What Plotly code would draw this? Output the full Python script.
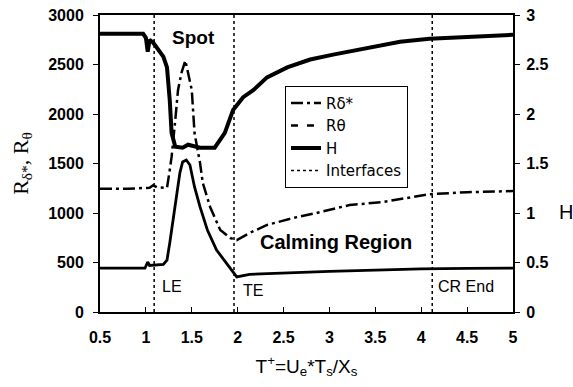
import plotly.graph_objects as go

# ---- data ----
x_h = [0.5, 0.97, 1.00, 1.02, 1.04, 1.08, 1.19, 1.23, 1.26, 1.28, 1.32, 1.40, 1.46, 1.59, 1.75,
       1.86, 1.95, 2.06, 2.17, 2.32, 2.54, 2.79, 3.04, 3.41, 3.77, 4.09, 4.5, 5.0]
h_vals = [2.81, 2.81, 2.77, 2.63, 2.75, 2.72, 2.58, 2.47, 2.14, 1.81, 1.67, 1.66, 1.69, 1.66, 1.66,
          1.81, 2.04, 2.17, 2.24, 2.37, 2.47, 2.55, 2.60, 2.67, 2.73, 2.76, 2.78, 2.80]

x_rd = [0.5, 0.8, 1.04, 1.08, 1.12, 1.23, 1.26, 1.28, 1.32, 1.35, 1.39, 1.43, 1.46, 1.50, 1.53,
        1.59, 1.62, 1.70, 1.81, 1.92, 1.99, 2.13, 2.32, 2.60, 2.86, 3.22, 3.58, 4.09, 4.5, 5.0]
rd_vals = [1245, 1245, 1255, 1280, 1260, 1253, 1434, 1566, 1939, 2242, 2424, 2540, 2414, 2242, 1808,
           1505, 1303, 1061, 828, 747, 727, 798, 879, 949, 1000, 1081, 1111, 1190, 1210, 1222]

x_rt = [0.5, 0.99, 1.02, 1.04, 1.19, 1.23, 1.26, 1.30, 1.34, 1.37, 1.40, 1.44, 1.48, 1.53, 1.59,
        1.67, 1.77, 1.88, 1.99, 2.13, 2.5, 3.0, 3.5, 4.0, 4.5, 5.0]
rt_vals = [444, 444, 505, 470, 480, 525, 697, 960, 1202, 1404, 1515, 1535, 1485, 1263, 1061,
           828, 626, 495, 354, 380, 395, 410, 422, 435, 440, 444]

interfaces = [1.09, 1.96, 4.12]
interface_labels = ["LE", "TE", "CR End"]

x_ticks = [0.5, 1, 1.5, 2, 2.5, 3, 3.5, 4, 4.5, 5]
left_ticks = [0, 500, 1000, 1500, 2000, 2500, 3000]
right_ticks = [0, 0.5, 1, 1.5, 2, 2.5, 3]

FONT = "Liberation Sans, Arial, sans-serif"
TICKFONT = dict(size=16, family=FONT, weight="bold")

fig = go.Figure()

fig.add_trace(go.Scatter(x=x_rd, y=rd_vals, name="Rδ*", mode="lines", legendrank=1,
                         line=dict(color="black", width=2.5, dash="12px,4px,3px,4px"),
                         yaxis="y"))
# Rθ is drawn nearly solid in the plot; legend shows a dashed sample
fig.add_trace(go.Scatter(x=x_rt, y=rt_vals, name="Rθ", mode="lines", showlegend=False,
                         line=dict(color="black", width=2.8),
                         yaxis="y"))
fig.add_trace(go.Scatter(x=[None], y=[None], name="Rθ", mode="lines", legendrank=2,
                         line=dict(color="black", width=2.5, dash="7px,9px"),
                         yaxis="y"))
fig.add_trace(go.Scatter(x=x_h, y=h_vals, name="H", mode="lines", legendrank=3,
                         line=dict(color="black", width=4),
                         yaxis="y2"))

ix, iy = [], []
for xv in interfaces:
    ix += [xv, xv, None]
    iy += [0, 3000, None]
fig.add_trace(go.Scatter(x=ix, y=iy, name="Interfaces", mode="lines", legendrank=4,
                         line=dict(color="black", width=1.5, dash="dot"),
                         yaxis="y"))

annotations = [
    dict(x=1.52, y=2775, text="<b>Spot</b>", showarrow=False, font=dict(size=19, family=FONT)),
    dict(x=3.07, y=707, text="<b>Calming Region</b>", showarrow=False, font=dict(size=20, family=FONT)),
]
label_pos = [(1.284, 253), (2.167, 222), (4.488, 253)]
for (lx, ly), t in zip(label_pos, interface_labels):
    annotations.append(dict(x=lx, y=ly, text=t, showarrow=False, font=dict(size=16, family=FONT)))
annotations.append(dict(xref="paper", yref="paper", x=1.128, y=0.337, xanchor="center", text="H",
                        showarrow=False, font=dict(size=20, family=FONT)))

fig.update_layout(
    width=573, height=387,
    margin=dict(l=100, r=60, t=15, b=75),
    paper_bgcolor="white", plot_bgcolor="white",
    font=dict(family=FONT, color="black", size=15),
    showlegend=True,
    legend=dict(x=0.448, y=0.762, xanchor="left", yanchor="top",
                bordercolor="black", borderwidth=1, bgcolor="white",
                entrywidth=86, entrywidthmode="pixels",
                font=dict(size=15, family="DejaVu Sans, sans-serif"), tracegroupgap=0),
    annotations=annotations,
    xaxis=dict(range=[0.5, 5], tickvals=x_ticks, ticktext=[str(v) for v in x_ticks],
               showline=True, linecolor="black", linewidth=2, mirror=True, automargin=False,
               ticks="inside", ticklen=5, tickcolor="black", showgrid=False, zeroline=False,
               tickfont=TICKFONT, ticklabelstandoff=10, ticklabeloverflow="allow",
               title=dict(text="T<sup>+</sup>=U<sub>e</sub>*T<sub>s</sub>/X<sub>s</sub>",
                          font=dict(size=19, family=FONT), standoff=14)),
    yaxis=dict(range=[0, 3000], tickvals=left_ticks, showline=True, linecolor="black", linewidth=2,
               ticks="outside", ticklen=5, tickcolor="black", showgrid=False, zeroline=False,
               automargin=False, tickfont=TICKFONT, ticklabelstandoff=6, ticklabeloverflow="allow",
               title=dict(text="R<sub>δ*</sub>, R<sub>θ</sub>",
                          font=dict(size=22, family="Liberation Serif, Times New Roman, serif"),
                          standoff=14)),
    yaxis2=dict(range=[0, 3], tickvals=right_ticks, ticktext=["0", "0.5", "1", "1.5", "2", "2.5", "3"],
                overlaying="y", side="right", showline=True, linecolor="black", linewidth=2,
                ticks="outside", ticklen=5, tickcolor="black", showgrid=False, zeroline=False,
                automargin=False, tickfont=TICKFONT, ticklabelstandoff=3, ticklabeloverflow="allow"),
)

# remove the default 8px page-body margin so the figure fills the window exactly
fig.write_html("out.html", config={"displayModeBar": False},
               post_script="document.body.style.margin='0px';")
